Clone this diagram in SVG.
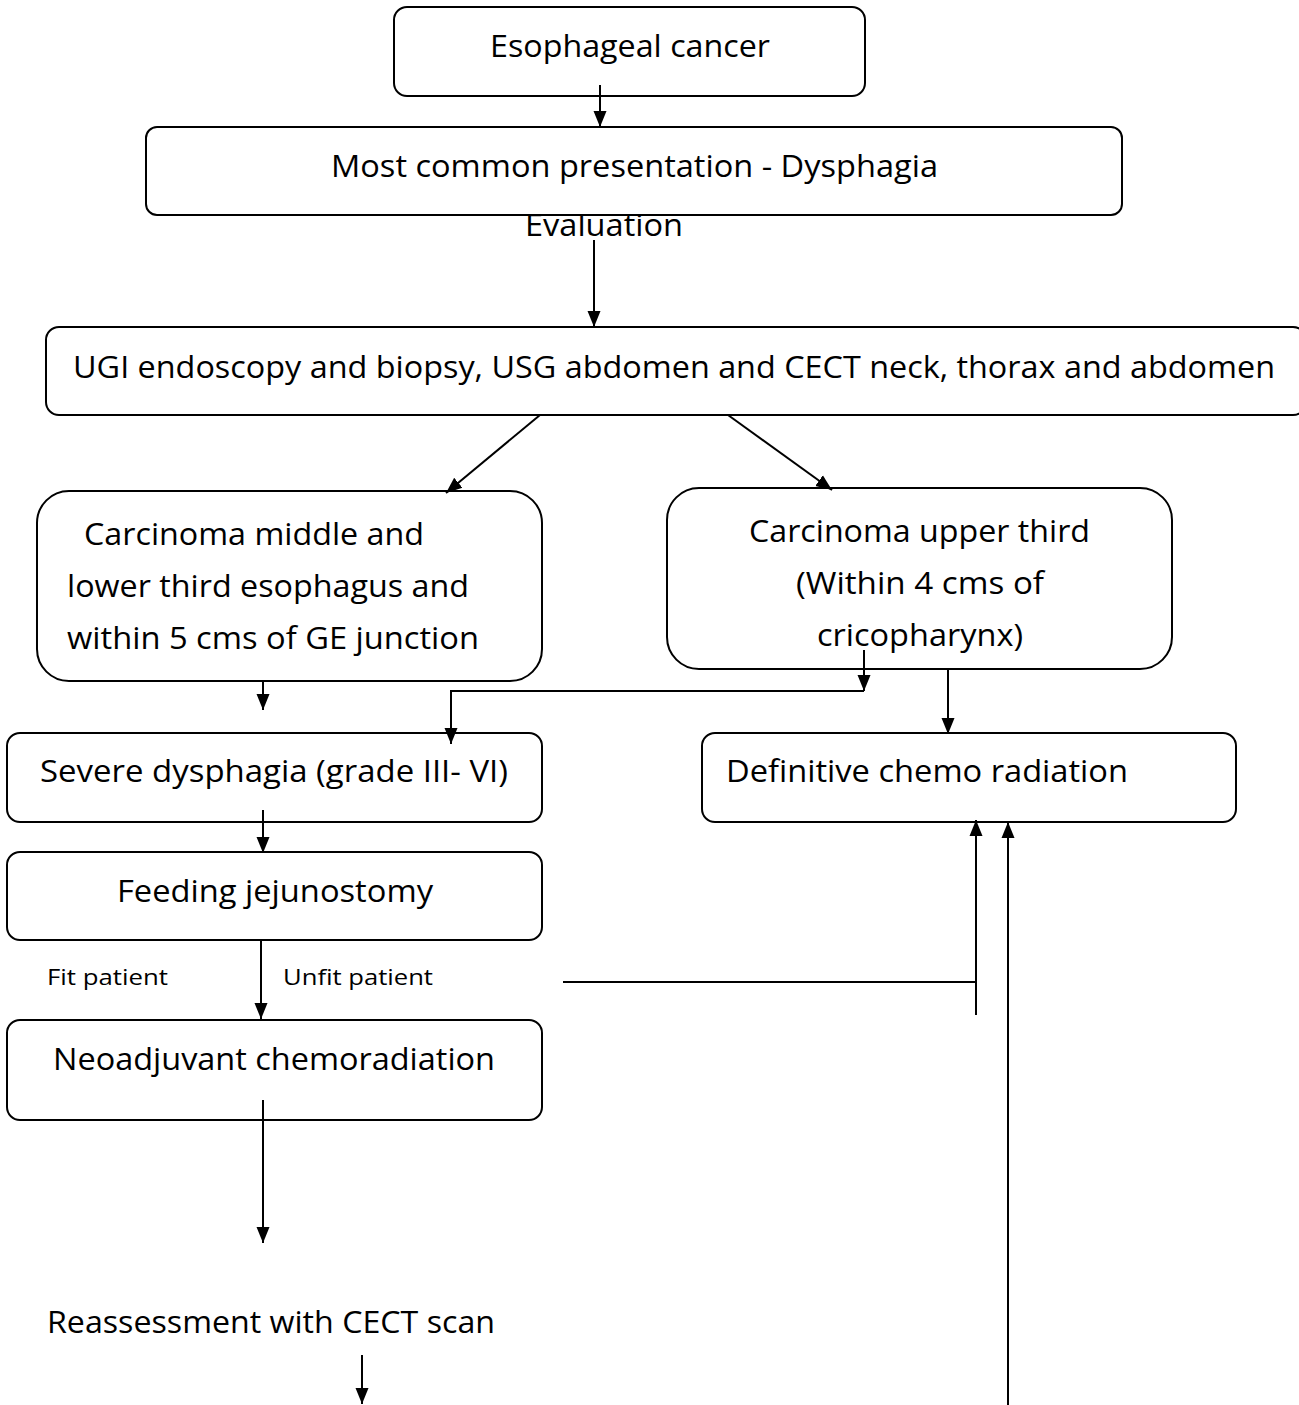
<svg xmlns="http://www.w3.org/2000/svg" width="1299" height="1405" viewBox="0 0 1299 1405">
<style>
.box{fill:#fff;stroke:#000;stroke-width:2}
.t{font-family:"Open Sans","Noto Sans",sans-serif;font-size:31px;fill:#000}
.s{font-family:"Open Sans","Noto Sans",sans-serif;font-size:21px;fill:#000}
.c{stroke:#000;stroke-width:2;fill:none}
.a{marker-end:url(#ah)}
</style>
<defs>
<marker id="ah" markerUnits="userSpaceOnUse" markerWidth="18" markerHeight="18" viewBox="0 0 18 18" refX="16" refY="9" orient="auto">
<path d="M0,2.5 L16,9 L0,15.5 Z" fill="#000"/>
</marker>
</defs>
<rect width="1299" height="1405" fill="#fff"/>

<g id="evaluation-label">
<text class="t" x="525" y="236" textLength="158" lengthAdjust="spacingAndGlyphs">Evaluation</text>
</g>

<g id="n1">
<rect class="box" x="394" y="7" width="471" height="89" rx="13"/>
<text class="t" x="490" y="57" textLength="280" lengthAdjust="spacingAndGlyphs">Esophageal cancer</text>
</g>
<g id="n2">
<rect class="box" x="146" y="127" width="976" height="88" rx="11"/>
<text class="t" x="331" y="177" textLength="607" lengthAdjust="spacingAndGlyphs">Most common presentation - Dysphagia</text>
</g>
<g id="n3">
<rect class="box" x="46" y="327" width="1260" height="88" rx="13"/>
<text class="t" x="73" y="378" textLength="1202" lengthAdjust="spacingAndGlyphs">UGI endoscopy and biopsy, USG abdomen and CECT neck, thorax and abdomen</text>
</g>
<g id="n4">
<rect class="box" x="37" y="491" width="505" height="190" rx="32"/>
<text class="t" x="84" y="545" textLength="340" lengthAdjust="spacingAndGlyphs">Carcinoma middle and</text>
<text class="t" x="67" y="597" textLength="402" lengthAdjust="spacingAndGlyphs">lower third esophagus and</text>
<text class="t" x="67" y="649" textLength="412" lengthAdjust="spacingAndGlyphs">within 5 cms of GE junction</text>
</g>
<g id="n5">
<rect class="box" x="667" y="488" width="505" height="181" rx="32"/>
<text class="t" x="749" y="542" textLength="341" lengthAdjust="spacingAndGlyphs">Carcinoma upper third</text>
<text class="t" x="796" y="594" textLength="248" lengthAdjust="spacingAndGlyphs">(Within 4 cms of</text>
<text class="t" x="817" y="646" textLength="206" lengthAdjust="spacingAndGlyphs">cricopharynx)</text>
</g>
<g id="n6">
<rect class="box" x="7" y="733" width="535" height="89" rx="13"/>
<text class="t" x="40" y="782" textLength="468" lengthAdjust="spacingAndGlyphs">Severe dysphagia (grade III- VI)</text>
</g>
<g id="n7">
<rect class="box" x="702" y="733" width="534" height="89" rx="13"/>
<text class="t" x="726" y="782" textLength="402" lengthAdjust="spacingAndGlyphs">Definitive chemo radiation</text>
</g>
<g id="n8">
<rect class="box" x="7" y="852" width="535" height="88" rx="13"/>
<text class="t" x="117" y="902" textLength="316" lengthAdjust="spacingAndGlyphs">Feeding jejunostomy</text>
</g>
<g id="n9">
<rect class="box" x="7" y="1020" width="535" height="100" rx="13"/>
<text class="t" x="53" y="1070" textLength="442" lengthAdjust="spacingAndGlyphs">Neoadjuvant chemoradiation</text>
</g>
<g id="n10">
<text class="t" x="47" y="1333" textLength="448" lengthAdjust="spacingAndGlyphs">Reassessment with CECT scan</text>
</g>
<g id="labels">
<text class="s" x="47" y="985" textLength="121" lengthAdjust="spacingAndGlyphs">Fit patient</text>
<text class="s" x="283" y="985" textLength="150" lengthAdjust="spacingAndGlyphs">Unfit patient</text>
</g>

<g id="connectors">
<line class="c a" x1="600" y1="85" x2="600" y2="127"/>
<line class="c a" x1="594" y1="240" x2="594" y2="327"/>
<line class="c a" x1="540" y1="415" x2="446" y2="493"/>
<line class="c a" x1="728" y1="415" x2="832" y2="490"/>
<line class="c a" x1="263" y1="681" x2="263" y2="710"/>
<line class="c a" x1="864" y1="650" x2="864" y2="691"/>
<polyline class="c a" points="864,691 451,691 451,744"/>
<line class="c a" x1="948" y1="669" x2="948" y2="734"/>
<line class="c a" x1="263" y1="810" x2="263" y2="853"/>
<line class="c a" x1="261" y1="940" x2="261" y2="1019"/>
<line class="c" x1="563" y1="982" x2="976" y2="982"/>
<line class="c a" x1="976" y1="1015" x2="976" y2="820"/>
<line class="c a" x1="1008" y1="1405" x2="1008" y2="822"/>
<line class="c a" x1="263" y1="1100" x2="263" y2="1243"/>
<line class="c a" x1="362" y1="1355" x2="362" y2="1404"/>
</g>
</svg>
